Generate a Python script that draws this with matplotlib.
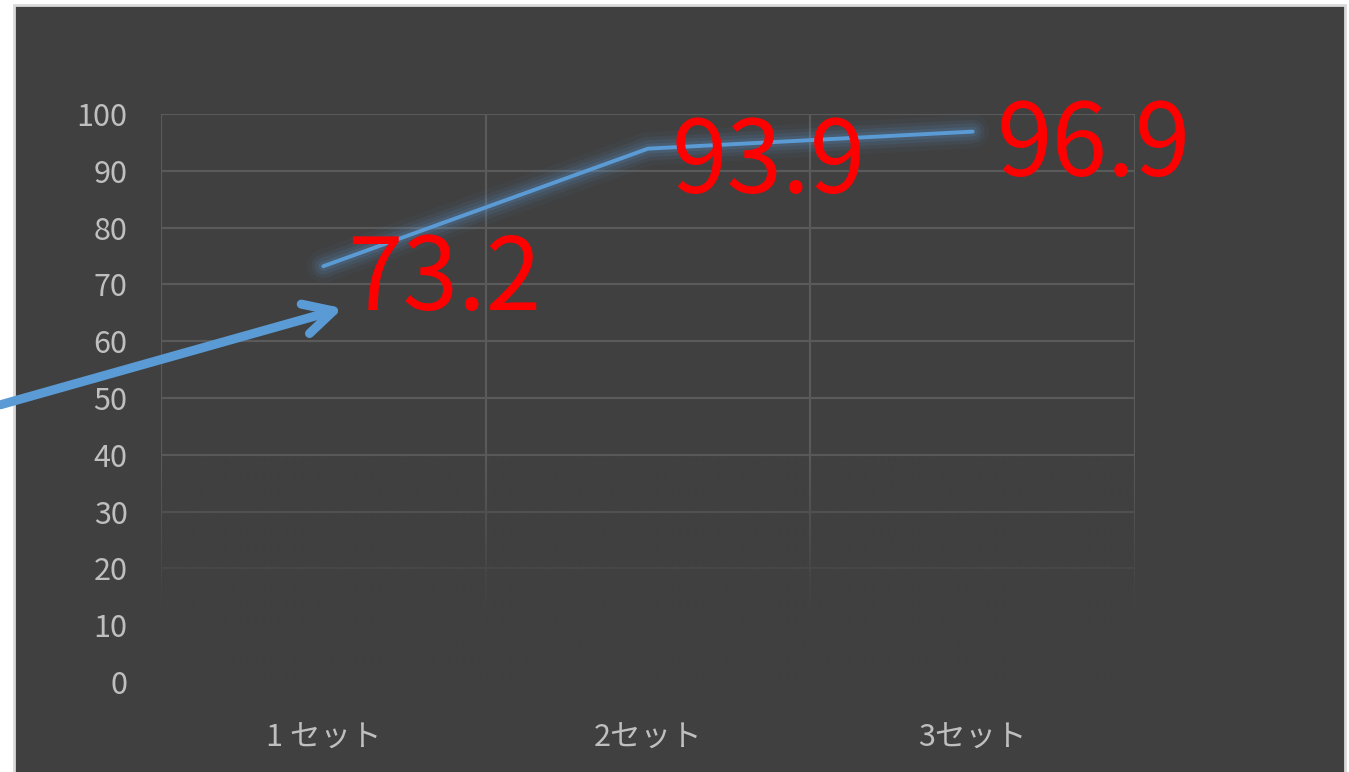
import numpy as np
import matplotlib
matplotlib.use('Agg')
import matplotlib.pyplot as plt
from matplotlib.patches import Rectangle
from matplotlib.colors import to_rgb

# ---- データ ----
categories = ['1 セット', '2セット', '3セット']
values = [73.2, 93.9, 96.9]
y_ticks = [0, 10, 20, 30, 40, 50, 60, 70, 80, 90, 100]
value_labels = ['73.2', '93.9', '96.9']

# 矢印 (データ座標)
arrow_start = (-0.995, 48.8)
arrow_end = (0.06, 65.8)

BG = '#404040'
GRID = '#5a5a5a'
LINE = '#5B9BD5'
TICK = '#bfbfbf'

plt.rcParams['font.family'] = ['Noto Sans CJK JP', 'DejaVu Sans']

W, H = 1349, 772
fig = plt.figure(figsize=(W / 100, H / 100), dpi=100, facecolor='white')

# 背景パネル
fig.patches.append(Rectangle((14 / W, -0.01), (1345 - 14) / W, 1 - 5 / H + 0.01,
                             transform=fig.transFigure, facecolor=BG,
                             edgecolor='#d9d9d9', linewidth=2, zorder=-10))

ax = fig.add_axes([161 / W, 1 - 682 / H, (1135 - 161) / W, (682 - 114) / H])
ax.set_facecolor('none')

# グリッド
for yv in y_ticks:
    ax.axhline(yv, color=GRID, linewidth=1.6, zorder=1)
for xv in np.arange(-0.5, len(categories), 1.0):
    ax.axvline(xv, color=GRID, linewidth=1.6, zorder=1)

# 下方向へのフェード
ny = 200
alpha = np.clip((40 - np.linspace(0, 100, ny)) / (40 - 12), 0, 1)[::-1]
grad = np.zeros((ny, 2, 4))
grad[..., :3] = to_rgb(BG)
grad[..., 3] = alpha[:, None]
ax.imshow(grad, extent=(-0.52, 2.52, 0, 100), aspect='auto', origin='upper',
          zorder=2, interpolation='bilinear')
ax.set_xlim(-0.5, 2.5)
ax.set_ylim(0, 100)

x = np.arange(len(categories))
# グロー
for lw, a in [(24, 0.05), (17, 0.08), (12, 0.11), (7, 0.16)]:
    ax.plot(x, values, color=LINE, linewidth=lw, alpha=a, solid_capstyle='round',
            solid_joinstyle='round', zorder=3)
ax.plot(x, values, color=LINE, linewidth=2.8, solid_capstyle='round', zorder=4)

for xi, v, lab in zip(x, values, value_labels):
    ax.annotate(lab, (xi, v), xytext=(24, -44), textcoords='offset pixels',
                ha='left', va='baseline', color='red', fontsize=72, zorder=5)

ax.annotate('', xy=arrow_end, xytext=arrow_start, xycoords='data',
            arrowprops=dict(arrowstyle='->,head_length=2.1,head_width=1.1',
                            color=LINE, linewidth=6.5, capstyle='round',
                            joinstyle='round', shrinkA=0, shrinkB=0),
            annotation_clip=False, zorder=6)

ax.set_xticks(x)
ax.set_xticklabels(categories)
ax.set_yticks(y_ticks)
ax.tick_params(axis='both', length=0, colors=TICK, labelsize=22)
ax.tick_params(axis='y', pad=24)
ax.tick_params(axis='x', pad=29)
for s in ax.spines.values():
    s.set_visible(False)

fig.savefig('out.png', dpi=100, facecolor='white')
